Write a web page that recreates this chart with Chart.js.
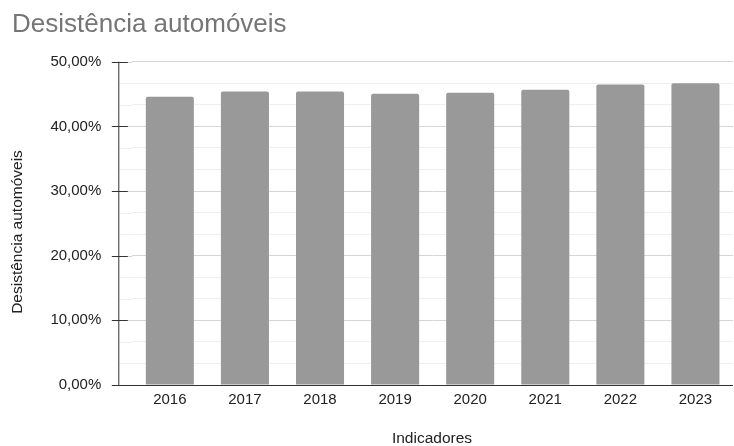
<!DOCTYPE html>
<html>
<head>
<meta charset="utf-8">
<script src="https://cdn.jsdelivr.net/npm/chart.js@4"></script>
<style>
    html, body { margin: 0; padding: 0; background: #fff; }
    #wrap { width: 734px; height: 446px; }
</style>
</head>
<body>
<div id="wrap"><canvas id="chart" width="734" height="446"></canvas></div>
<script>
const years = ["2016", "2017", "2018", "2019", "2020", "2021", "2022", "2023"];
const desistencia = [44.58, 45.41, 45.41, 45.05, 45.20, 45.67, 46.49, 46.65];

const chartTitle = "Desistência automóveis";
const yTitle = "Desistência automóveis";
const xTitle = "Indicadores";

const FONT = "'Liberation Sans', Arial, Helvetica, sans-serif";
const AXIS_SHIFT = 14;

function isMajor(v) {
    return Math.abs(v / 10 - Math.round(v / 10)) < 1e-6;
}

// --- draws title, axis titles, axis line and tick marks ---
const decor = {
    id: "decor",
    beforeDatasetsDraw(chart) {
        const { ctx, chartArea, scales } = chart;
        const y = scales.y;
        const axisX = chartArea.left - AXIS_SHIFT + 0.5;
        ctx.save();
        // extend grid lines to the axis
        y.ticks.forEach(t => {
            const py = Math.round(y.getPixelForValue(t.value)) + 0.5;
            ctx.strokeStyle = isMajor(t.value) ? "#d6d6d6" : "#efefef";
            ctx.lineWidth = 1;
            ctx.beginPath();
            ctx.moveTo(axisX, py);
            ctx.lineTo(chartArea.left, py);
            ctx.stroke();
        });
        ctx.restore();
    },
    afterDatasetsDraw(chart) {
        const { ctx, chartArea, scales } = chart;
        const y = scales.y;
        const axisX = chartArea.left - AXIS_SHIFT + 0.5;
        const bottom = Math.round(chartArea.bottom) + 0.5;
        ctx.save();
        ctx.strokeStyle = "#333";
        ctx.lineWidth = 1;
        ctx.beginPath();
        ctx.moveTo(axisX, chartArea.top);
        ctx.lineTo(axisX, bottom);
        ctx.moveTo(axisX, bottom);
        ctx.lineTo(chartArea.right, bottom);
        ctx.stroke();
        y.ticks.forEach(t => {
            if (!isMajor(t.value)) return;
            const py = Math.round(y.getPixelForValue(t.value)) + 0.5;
            ctx.beginPath();
            ctx.moveTo(axisX - 7, py);
            ctx.lineTo(axisX + 9, py);
            ctx.stroke();
        });

        ctx.fillStyle = "#757575";
        ctx.font = "26px " + FONT;
        ctx.textAlign = "left";
        ctx.textBaseline = "middle";
        ctx.fillText(chartTitle, 12, 25);

        ctx.fillStyle = "#222";
        ctx.font = "15.5px " + FONT;
        ctx.textAlign = "center";
        ctx.fillText(xTitle, 432, 439);

        ctx.translate(18, 232);
        ctx.rotate(-Math.PI / 2);
        ctx.fillText(yTitle, 0, 0);
        ctx.restore();
    }
};

new Chart(document.getElementById("chart"), {
    type: "bar",
    data: {
        labels: years,
        datasets: [{
            data: desistencia,
            backgroundColor: "#999999",
            borderWidth: 0,
            borderRadius: 2,
            borderSkipped: "bottom",
            categoryPercentage: 1,
            barPercentage: 0.64
        }]
    },
    options: {
        responsive: false,
        animation: false,
        layout: { padding: { top: 61.7, right: 1, left: 0, bottom: 0 } },
        plugins: {
            legend: { display: false },
            tooltip: { enabled: false },
            title: { display: false }
        },
        scales: {
            x: {
                grid: { display: false, drawTicks: false },
                border: { display: false },
                ticks: {
                    color: "#222",
                    font: { family: FONT, size: 15 },
                    padding: 6
                },
                afterFit(scale) { scale.height = 61; }
            },
            y: {
                min: 0,
                max: 50,
                grid: {
                    drawTicks: false,
                    color: c => isMajor(c.tick.value) ? "#d6d6d6" : "#efefef"
                },
                border: { display: false },
                ticks: {
                    stepSize: 10 / 3,
                    autoSkip: false,
                    color: "#222",
                    font: { family: FONT, size: 15 },
                    padding: 31,
                    callback: v => isMajor(v) ? (Math.round(v).toFixed(2).replace(".", ",") + "%") : ""
                },
                afterFit(scale) { scale.width = 132.3; }
            }
        }
    },
    plugins: [decor]
});
</script>
</body>
</html>
